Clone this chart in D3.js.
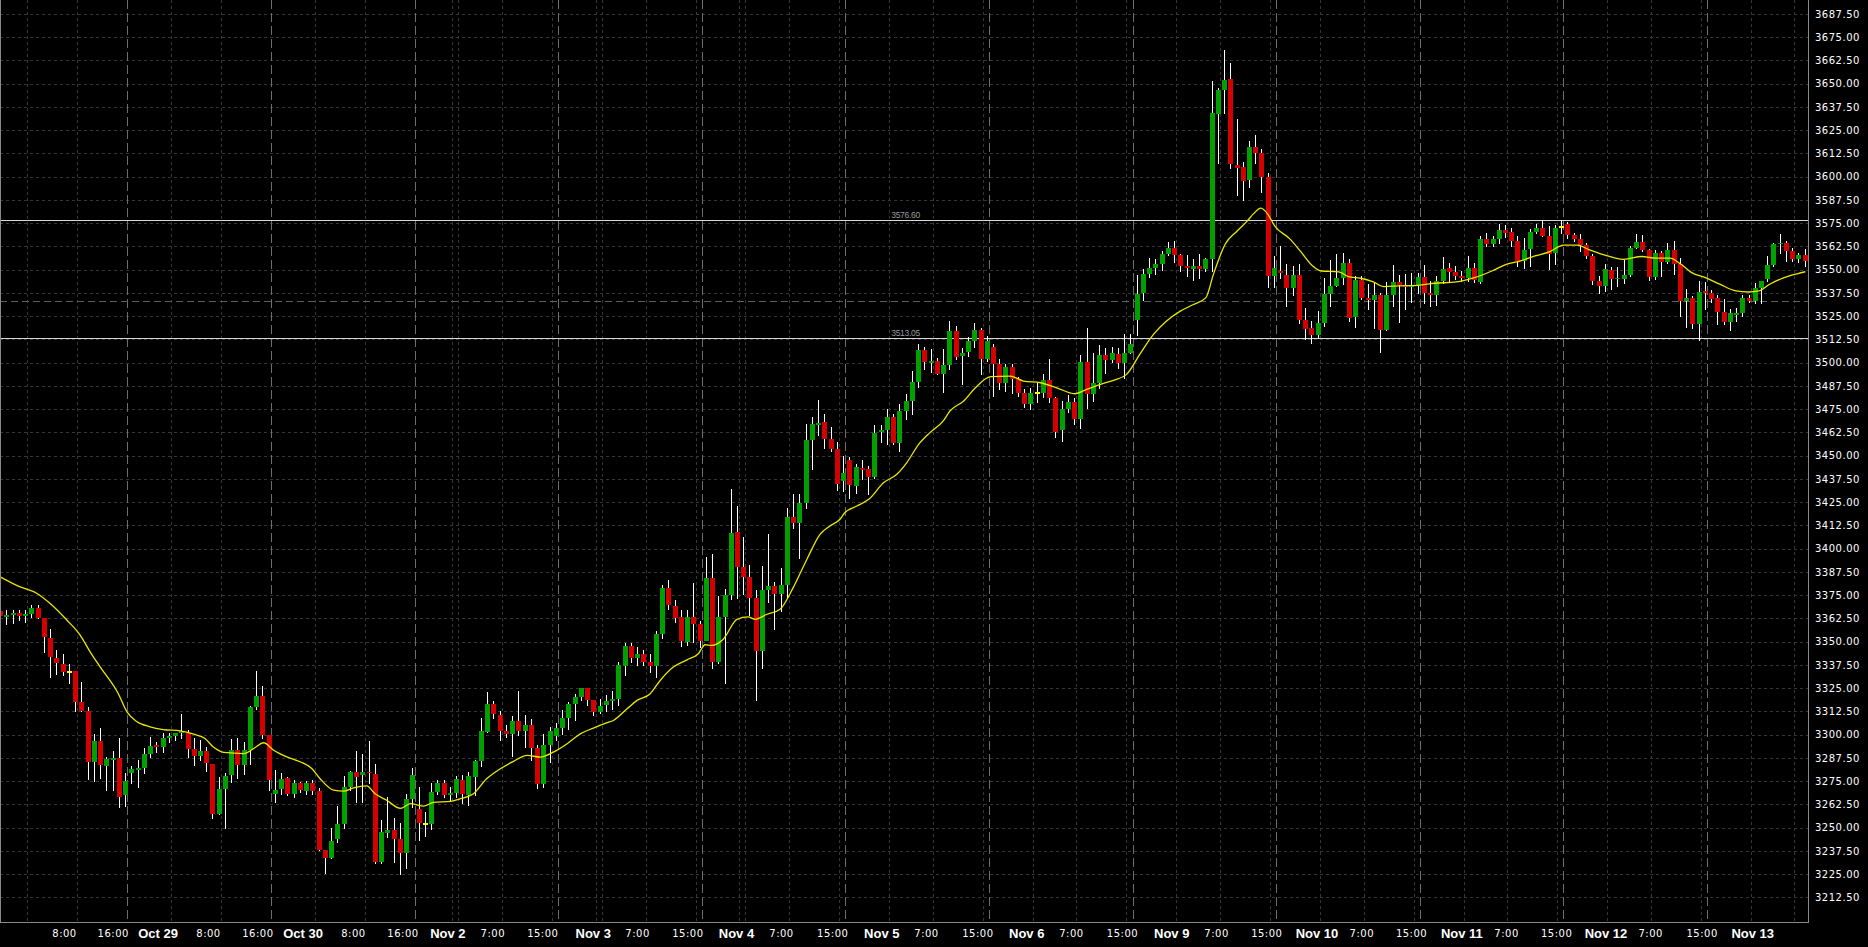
<!DOCTYPE html>
<html><head><meta charset="utf-8">
<script src="https://cdn.jsdelivr.net/npm/d3@7"></script>
<style>
html,body{margin:0;padding:0;background:#000;overflow:hidden}
svg{display:block}
</style></head><body>
<svg id="chart" width="1868" height="947"></svg>
<script>
// ---------- DATA (hourly candles, index 0..289) ----------
const opens = [3366.5,3363.3,3364.2,3365.5,3364.0,3364.7,3368.3,3362.8,3352.2,3341.4,3338.2,3333.6,3334.1,3317.3,3312.6,3285.4,3296.3,3283.2,3286.6,3287.3,
3267.4,3279.4,3280.9,3282.0,3289.8,3294.3,3293.4,3298.3,3299.5,3300.6,3301.1,3292.2,3288.6,3291.1,3284.1,3257.2,3270.6,3278.2,3291.6,3283.6,
3291.6,3314.7,3320.7,3299.7,3268.1,3270.5,3276.4,3268.3,3273.7,3269.8,3273.7,3269.6,3237.9,3233.7,3243.6,3251.8,3271.7,3279.8,3278.0,3279.8,
3278.7,3231.6,3247.2,3248.6,3243.8,3236.4,3265.3,3259.9,3252.0,3252.0,3269.0,3273.7,3267.5,3268.6,3275.4,3267.5,3277.2,3285.6,3301.3,3316.2,
3310.8,3301.9,3300.1,3307.1,3301.9,3304.9,3292.7,3273.2,3294.2,3299.0,3303.7,3308.9,3316.4,3320.0,3324.8,3318.4,3312.1,3315.7,3318.0,3319.4,
3336.8,3347.4,3341.1,3343.6,3339.0,3336.8,3353.9,3378.9,3368.9,3363.0,3349.7,3363.0,3359.4,3350.5,3384.0,3339.0,3363.3,3375.1,3409.0,3390.2,
3384.8,3373.3,3345.0,3377.6,3379.8,3375.8,3380.5,3417.1,3414.0,3424.6,3458.4,3466.5,3468.1,3459.2,3453.6,3436.4,3447.7,3433.9,3443.4,3443.0,
3438.7,3462.9,3464.0,3470.8,3456.7,3474.0,3479.4,3489.8,3506.8,3500.0,3500.9,3493.8,3498.9,3517.0,3503.8,3505.7,3511.7,3517.6,3502.2,3508.4,
3499.1,3489.2,3497.6,3491.4,3483.8,3477.6,3483.5,3483.8,3490.5,3480.8,3463.6,3475.1,3478.8,3469.9,3500.3,3482.9,3488.9,3504.1,3501.4,3504.5,
3500.0,3505.3,3523.0,3537.5,3547.5,3551.0,3553.3,3558.5,3561.4,3557.8,3552.0,3550.5,3552.0,3550.5,3555.5,3633.7,3646.6,3652.5,3606.2,3605.1,
3598.2,3615.9,3613.0,3600.0,3546.6,3549.2,3547.2,3540.4,3547.2,3522.9,3518.6,3514.9,3521.5,3537.1,3541.2,3545.7,3553.4,3524.6,3544.5,3534.8,
3533.7,3536.4,3517.5,3536.4,3543.4,3541.6,3540.5,3541.0,3546.1,3537.3,3536.2,3543.9,3551.0,3548.8,3546.6,3545.7,3551.1,3543.4,3566.7,3564.0,
3566.4,3571.1,3570.3,3565.5,3554.5,3561.0,3570.3,3572.5,3568.2,3558.9,3573.2,3574.7,3568.6,3566.4,3563.2,3557.4,3543.9,3541.2,3549.9,3544.8,
3544.8,3547.2,3561.9,3564.9,3560.6,3546.1,3558.9,3554.4,3560.6,3553.3,3533.2,3534.8,3520.9,3538.4,3537.3,3534.8,3527.2,3522.0,3525.8,3526.9,
3534.8,3533.2,3540.2,3544.8,3552.4,3563.9,3564.6,3560.1,3555.6,3557.8];
const highs = [3367.2,3367.2,3366.9,3366.9,3366.9,3369.9,3369.9,3362.8,3357.0,3345.7,3343.6,3338.2,3334.1,3328.2,3314.9,3300.2,3303.3,3288.0,3291.3,3298.1,
3279.1,3283.0,3286.2,3292.9,3298.8,3296.1,3300.6,3300.6,3301.0,3311.0,3302.4,3297.9,3297.0,3293.4,3284.1,3277.3,3279.1,3297.5,3297.9,3296.1,
3315.5,3334.1,3326.0,3299.7,3281.2,3279.1,3277.0,3275.5,3274.6,3275.0,3275.5,3271.4,3237.9,3249.9,3261.5,3277.6,3280.3,3291.1,3289.5,3296.5,
3284.4,3254.0,3266.5,3254.9,3252.7,3268.3,3282.3,3271.9,3258.5,3274.1,3275.5,3275.8,3271.8,3277.5,3278.0,3279.7,3286.1,3308.7,3322.7,3318.0,
3312.6,3305.3,3309.8,3323.2,3310.3,3308.2,3294.2,3300.1,3304.0,3306.2,3313.0,3317.6,3321.6,3325.2,3325.2,3318.7,3319.3,3321.1,3323.7,3339.0,
3349.4,3349.0,3347.0,3345.3,3343.1,3355.5,3380.7,3382.9,3372.6,3366.8,3367.1,3381.4,3361.0,3395.4,3396.9,3374.7,3378.5,3431.9,3423.0,3406.3,
3391.3,3377.6,3390.7,3408.1,3382.3,3389.5,3421.7,3429.6,3429.2,3466.9,3470.8,3479.8,3472.2,3465.4,3457.6,3449.8,3449.5,3445.4,3447.5,3444.5,
3466.5,3466.3,3474.9,3472.2,3478.0,3483.4,3495.5,3509.9,3508.6,3507.2,3502.7,3507.5,3522.4,3519.7,3508.1,3513.8,3521.2,3518.8,3514.3,3509.8,
3501.8,3499.4,3499.1,3492.3,3485.6,3486.2,3489.2,3493.7,3501.8,3481.5,3479.4,3482.6,3481.1,3504.1,3518.8,3505.0,3509.3,3508.0,3508.4,3508.0,
3515.6,3515.2,3547.0,3550.5,3556.5,3556.0,3560.0,3564.8,3565.4,3558.2,3557.9,3555.5,3558.2,3556.4,3651.4,3647.8,3667.9,3661.1,3631.3,3608.0,
3619.1,3622.7,3615.0,3602.0,3557.4,3562.8,3552.9,3552.0,3552.9,3529.2,3522.4,3527.8,3545.7,3555.2,3558.3,3559.2,3555.6,3546.6,3546.6,3542.1,
3543.4,3537.6,3543.4,3552.6,3547.2,3547.5,3548.4,3548.4,3552.4,3543.9,3546.6,3556.9,3553.8,3552.0,3549.3,3557.4,3553.8,3568.2,3569.9,3568.2,
3574.4,3573.9,3572.3,3568.2,3567.3,3571.7,3574.4,3576.6,3573.6,3574.0,3576.6,3575.4,3570.0,3569.1,3564.6,3558.3,3546.6,3552.9,3551.7,3551.7,
3555.2,3562.8,3569.1,3568.5,3561.0,3560.6,3560.1,3564.6,3565.5,3556.5,3539.4,3535.9,3543.9,3543.4,3539.1,3536.2,3534.1,3528.7,3529.6,3536.2,
3536.2,3543.0,3543.9,3557.4,3564.6,3569.1,3565.5,3561.9,3559.2,3561.0];
const lows = [3363.0,3359.7,3360.1,3361.5,3360.6,3363.0,3362.8,3344.5,3330.7,3332.8,3332.0,3327.8,3312.8,3312.8,3276.2,3275.1,3276.9,3270.1,3270.1,3260.8,
3261.5,3274.1,3271.9,3279.1,3288.0,3290.7,3290.7,3296.1,3297.0,3297.9,3288.0,3283.6,3286.2,3280.5,3255.2,3257.2,3249.9,3274.6,3276.4,3278.7,
3284.4,3314.0,3297.9,3270.1,3263.7,3268.3,3267.5,3266.2,3269.2,3268.3,3268.3,3237.9,3225.7,3233.4,3242.2,3249.5,3270.1,3263.8,3263.8,3273.7,
3231.0,3231.0,3245.0,3231.6,3225.0,3228.5,3261.2,3243.2,3245.7,3249.0,3268.3,3266.5,3264.6,3266.4,3263.2,3261.9,3267.3,3282.9,3301.3,3309.0,
3296.9,3298.7,3288.6,3299.6,3293.3,3286.1,3271.4,3271.8,3285.0,3296.9,3300.5,3303.1,3308.0,3318.4,3316.0,3310.3,3311.7,3312.6,3313.9,3315.7,
3331.8,3339.0,3337.2,3337.2,3333.6,3330.9,3352.1,3367.3,3360.5,3347.6,3348.3,3349.7,3347.0,3356.0,3335.8,3338.7,3328.0,3372.8,3373.3,3375.5,
3364.4,3318.5,3335.7,3371.5,3356.7,3366.5,3373.7,3411.0,3395.2,3422.1,3443.0,3461.1,3454.3,3452.5,3431.4,3431.0,3427.4,3430.1,3437.3,3429.2,
3438.2,3457.6,3456.1,3456.1,3452.5,3469.6,3472.2,3486.9,3496.4,3495.2,3493.8,3484.4,3496.4,3501.8,3488.7,3503.6,3508.4,3494.1,3500.9,3482.1,
3485.6,3484.7,3483.8,3482.1,3476.1,3475.1,3479.0,3481.5,3479.0,3460.0,3457.9,3473.6,3467.2,3465.0,3475.4,3479.4,3486.5,3494.6,3500.3,3497.3,
3491.9,3505.0,3515.0,3533.5,3546.0,3547.5,3550.0,3557.8,3554.3,3549.3,3546.6,3544.6,3545.7,3549.3,3549.3,3607.5,3634.4,3604.8,3590.1,3587.4,
3594.6,3607.5,3592.0,3540.9,3540.9,3545.7,3530.5,3536.4,3521.5,3512.5,3510.7,3513.4,3519.7,3530.5,3541.2,3542.1,3522.4,3519.1,3534.0,3528.7,
3518.8,3505.9,3517.5,3530.5,3522.0,3528.7,3532.8,3537.6,3532.3,3530.5,3530.8,3543.0,3543.9,3544.8,3543.9,3543.9,3543.4,3543.0,3562.8,3562.8,
3564.2,3567.8,3562.8,3552.0,3551.1,3552.0,3569.6,3568.2,3550.6,3552.9,3570.0,3567.3,3565.5,3560.1,3556.5,3542.1,3537.6,3538.5,3539.8,3541.2,
3542.7,3546.6,3561.9,3560.1,3544.5,3544.8,3546.6,3553.8,3547.5,3525.1,3519.2,3518.8,3512.1,3528.7,3532.6,3520.6,3520.6,3517.5,3522.4,3525.1,
3532.6,3532.3,3531.9,3543.9,3552.0,3559.2,3554.7,3554.7,3554.2,3552.0];
const closes = [3363.7,3364.2,3365.5,3364.0,3364.9,3368.3,3362.8,3352.5,3341.8,3338.6,3333.7,3333.6,3317.6,3312.8,3285.4,3296.3,3283.7,3286.8,3287.3,3266.5,
3275.0,3281.6,3282.0,3289.8,3294.1,3293.4,3298.1,3299.3,3300.6,3301.7,3292.2,3288.6,3291.1,3284.6,3257.2,3270.6,3277.8,3291.6,3283.6,3291.6,
3314.9,3320.7,3299.7,3275.5,3270.1,3276.0,3268.3,3273.7,3270.1,3273.7,3269.8,3238.2,3233.7,3242.7,3251.8,3271.7,3279.8,3277.3,3279.8,3279.1,
3231.6,3247.5,3248.6,3243.8,3236.1,3265.3,3278.0,3252.4,3252.0,3269.0,3273.7,3267.4,3268.6,3275.9,3267.8,3277.5,3285.6,3301.7,3316.2,3311.2,
3301.9,3300.1,3307.1,3301.9,3304.9,3292.7,3273.2,3294.2,3301.7,3303.5,3308.9,3316.4,3320.0,3324.8,3318.4,3312.1,3315.5,3318.0,3319.4,3337.2,
3347.4,3341.1,3343.6,3339.0,3336.8,3353.9,3378.8,3369.8,3362.6,3350.1,3363.0,3359.4,3350.1,3384.0,3339.0,3363.0,3375.1,3408.6,3390.2,3384.8,
3373.7,3345.0,3377.6,3379.8,3375.8,3380.5,3417.1,3414.0,3424.6,3458.4,3466.9,3467.6,3459.2,3453.6,3435.0,3440.7,3434.4,3443.9,3442.3,3438.7,
3462.2,3464.0,3470.8,3456.7,3474.0,3479.4,3489.8,3506.8,3500.6,3500.9,3493.8,3498.9,3517.0,3503.2,3505.2,3511.7,3517.6,3502.2,3511.7,3499.4,
3489.2,3497.6,3491.4,3483.8,3477.9,3483.8,3483.5,3490.5,3481.2,3462.9,3475.1,3478.8,3469.9,3500.3,3482.9,3488.9,3504.1,3501.4,3505.0,3500.0,
3505.3,3510.0,3537.0,3547.5,3551.0,3553.3,3558.5,3561.4,3557.8,3552.0,3550.8,3552.2,3550.5,3555.5,3634.2,3646.6,3651.9,3606.8,3604.8,3597.6,
3615.9,3612.9,3600.0,3546.6,3551.1,3548.1,3540.4,3547.2,3522.9,3518.3,3514.9,3521.5,3537.1,3541.2,3545.7,3553.4,3524.2,3544.5,3534.9,3533.7,
3536.4,3517.5,3536.4,3543.4,3541.6,3540.5,3541.0,3546.1,3537.6,3536.2,3543.9,3550.6,3548.8,3546.6,3545.7,3551.1,3544.5,3566.7,3564.0,3566.4,
3571.4,3569.9,3565.5,3554.5,3560.6,3570.3,3572.5,3568.2,3558.3,3572.3,3573.2,3568.6,3566.4,3563.2,3557.4,3543.9,3541.2,3550.2,3544.8,3545.7,
3547.4,3561.5,3564.9,3560.6,3546.1,3558.9,3554.4,3560.6,3553.3,3533.2,3534.8,3520.9,3538.0,3537.3,3534.4,3527.2,3521.8,3526.9,3526.9,3534.8,
3533.2,3540.2,3543.9,3552.4,3564.0,3564.6,3560.1,3555.6,3557.8,3554.7];

// moving average: candle index -> value
const maIndex = [0,2.9,5.9,8.0,10.7,12.8,14.4,16.0,18.9,20.3,21.9,24.0,26.1,28.8,31.0,32.8,34.1,35.8,39.0,40.6,42.2,43.8,45.9,48.0,49.9,51.2,53.4,55.0,56.6,58.7,60.0,61.9,64.1,65.7,67.8,69.4,72.1,73.7,75.8,77.9,80.1,82.2,84.4,86.5,88.6,90.8,92.9,95.0,97.2,98.2,100.4,102.0,104.1,105.7,107.8,110.0,111.8,112.9,114.0,115.8,118.0,119.8,120.9,122.8,124.9,127.0,129.2,131.3,132.9,134.5,135.3,137.2,139.1,141.5,143.6,145.2,147.1,148.9,151.1,152.1,154.3,156.1,158.6,161.8,163.9,166.6,169.2,172.1,174.0,176.2,178.3,180.4,182.6,184.7,186.8,189.0,191.1,193.1,194.3,196.2,198.1,199.7,200.7,201.9,203.0,204.1,206.5,208.2,210.2,211.6,214.4,215.9,217.9,219.9,221.6,224.1,227.0,229.8,233.2,236.1,238.9,241.2,243.5,245.8,248.1,250.4,252.6,254.3,256.6,260.0,262.9,265.2,267.4,269.2,270.9,273.1,275.4,278.0,280.0,281.7,283.4,285.7,287.9,289.1];
const maValues = [3384.8,3379.8,3375.9,3370.5,3361.5,3353.5,3344.5,3336.4,3322.1,3312.2,3306.9,3304.2,3302.7,3302.0,3300.2,3297.9,3293.4,3290.4,3289.8,3292.5,3295.6,3291.6,3288.0,3285.4,3281.8,3276.4,3270.1,3269.6,3271.4,3272.4,3268.3,3264.7,3260.3,3262.9,3261.5,3263.5,3264.1,3265.5,3268.2,3276.2,3281.6,3285.6,3288.8,3287.9,3290.6,3295.1,3300.4,3303.5,3306.4,3307.6,3313.9,3318.4,3322.0,3329.1,3336.3,3340.2,3343.5,3348.3,3348.0,3351.3,3362.0,3363.3,3362.0,3364.7,3367.4,3379.0,3394.3,3407.7,3412.2,3415.8,3419.4,3422.9,3426.5,3435.5,3440.0,3446.3,3456.1,3462.4,3469.0,3474.0,3479.4,3486.2,3492.5,3492.8,3490.1,3489.2,3486.5,3483.3,3485.6,3488.3,3490.5,3493.7,3505.0,3515.2,3522.4,3527.7,3531.3,3535.0,3547.5,3563.8,3570.8,3576.1,3580.0,3583.1,3579.9,3573.6,3566.7,3560.1,3552.0,3549.3,3548.8,3546.3,3545.4,3543.4,3540.9,3541.3,3541.6,3542.7,3543.4,3545.7,3549.3,3552.9,3554.7,3557.4,3559.6,3563.2,3563.2,3561.0,3558.3,3555.6,3557.1,3556.2,3556.2,3552.9,3548.4,3545.7,3542.2,3538.6,3538.0,3538.6,3542.2,3545.7,3547.9,3548.9];

// axes / annotations
const yTickValues = d3.range(3212.5, 3687.51, 12.5);
const timeLabels = ["8:00","16:00","Oct 29","8:00","16:00","Oct 30","8:00","16:00","Nov 2","7:00","15:00","Nov 3","7:00","15:00","Nov 4","7:00","15:00","Nov 5","7:00","15:00","Nov 6","7:00","15:00","Nov 9","7:00","15:00","Nov 10","7:00","15:00","Nov 11","7:00","15:00","Nov 12","7:00","15:00","Nov 13"];
const timeLabelIndex = [10.22,18.02,25.21,33.28,41.19,48.43,56.49,64.43,71.62,78.81,86.82,94.89,102.0,110.06,117.84,125.05,133.26,141.11,148.27,156.5,164.32,171.49,179.66,187.54,194.72,202.77,210.81,217.99,225.95,234.01,241.17,249.18,257.09,264.26,272.49,280.6];
const sessionStarts = [20,43,66,89,112,135,158,181,204,227,250,273];
const gridHours = [4,12,27,35,50,58,72,73,80,88,95,96,103,111,118,119,126,134,142,149,157,165,172,180,188,195,203,211,218,226,234,241,249,257,264,272,280,287];
const levelLines = [3576.60, 3513.05];
const levelLabels = ["3576.60", "3513.05"];
const levelLabelIndex = 142.7;
const priceLine = 3533.0;

// ---------- DRAW ----------
const W = 1868, H = 947;
const plotRight = 1808.5, plotBottom = 922.5;
const svg = d3.select("#chart");
const x = d3.scaleLinear().domain([0, 289]).range([0.2, 0.2 + 289 * 6.244]);
const y = d3.scaleLinear().domain([3212.5, 3687.5]).range([897.3, 14]);
const sep = 0.36; // separator offset inside the hour slot

svg.append("rect").attr("width", W).attr("height", H).attr("fill", "#000");

const grid = svg.append("g").attr("shape-rendering", "crispEdges");
grid.selectAll("line.h").data(yTickValues).join("line")
  .attr("x1", 0).attr("x2", plotRight)
  .attr("y1", d => Math.round(y(d)) + 0.5).attr("y2", d => Math.round(y(d)) + 0.5)
  .attr("stroke", "#363636").attr("stroke-dasharray", "3,3");
grid.selectAll("line.v").data(gridHours).join("line")
  .attr("x1", d => Math.round(x(d + sep)) + 0.5).attr("x2", d => Math.round(x(d + sep)) + 0.5)
  .attr("y1", 0).attr("y2", plotBottom)
  .attr("stroke", "#363636").attr("stroke-dasharray", "3,3");
grid.selectAll("line.s").data(sessionStarts).join("line")
  .attr("x1", d => Math.round(x(d + sep)) + 0.5).attr("x2", d => Math.round(x(d + sep)) + 0.5)
  .attr("y1", 0).attr("y2", plotBottom)
  .attr("stroke", "#6e6e6e").attr("stroke-dasharray", "9,4");
grid.append("line")
  .attr("x1", 0).attr("x2", plotRight)
  .attr("y1", Math.round(y(priceLine)) + 0.5).attr("y2", Math.round(y(priceLine)) + 0.5)
  .attr("stroke", "#5e5e5e").attr("stroke-dasharray", "7,4");

const lv = svg.append("g");
lv.selectAll("line").data(levelLines).join("line")
  .attr("shape-rendering", "crispEdges")
  .attr("x1", 0).attr("x2", plotRight)
  .attr("y1", d => Math.round(y(d)) + 0.5).attr("y2", d => Math.round(y(d)) + 0.5)
  .attr("stroke", "#d8d8d8");
lv.selectAll("text").data(levelLines).join("text")
  .attr("x", x(levelLabelIndex)).attr("y", d => Math.round(y(d)) - 2)
  .attr("fill", "#9a9a9a").attr("font-family", "Liberation Sans, Arial, sans-serif")
  .attr("font-size", "8.5px").attr("letter-spacing", "-0.3px")
  .text((d, i) => levelLabels[i]);

// candles
const idx = d3.range(opens.length);
const cg = svg.append("g").attr("shape-rendering", "crispEdges");
cg.selectAll("line.w").data(idx).join("line")
  .attr("x1", i => Math.round(x(i)) + 0.5).attr("x2", i => Math.round(x(i)) + 0.5)
  .attr("y1", i => Math.round(y(highs[i]))).attr("y2", i => Math.round(y(lows[i])) + 1)
  .attr("stroke", "#ffffff");
cg.selectAll("rect.b").data(idx).join("rect")
  .attr("x", i => Math.round(x(i)) - 2)
  .attr("width", 5)
  .attr("y", i => {
    if (opens[i] === closes[i]) return Math.round(y(opens[i])) - 1;
    return Math.round(y(Math.max(opens[i], closes[i])));
  })
  .attr("height", i => {
    if (opens[i] === closes[i]) return 2;
    return Math.max(1, Math.round(y(Math.min(opens[i], closes[i]))) - Math.round(y(Math.max(opens[i], closes[i]))));
  })
  .attr("fill", i => opens[i] === closes[i] ? "#ffff00" : (closes[i] > opens[i] ? "#00a000" : "#d40000"));

// moving average
const maPts = maIndex.map((d, i) => [d, maValues[i]]).slice(0, Math.min(maIndex.length, maValues.length));
svg.append("path").datum(maPts)
  .attr("fill", "none").attr("stroke", "#e8e800").attr("stroke-width", 1.3)
  .attr("d", d3.line().x(d => x(d[0])).y(d => y(d[1])).curve(d3.curveMonotoneX));

// frame
const fr = svg.append("g").attr("shape-rendering", "crispEdges").attr("stroke", "#8a8a8a");
fr.append("line").attr("x1", plotRight).attr("x2", plotRight).attr("y1", 0).attr("y2", plotBottom);
fr.append("line").attr("x1", 0).attr("x2", plotRight).attr("y1", plotBottom).attr("y2", plotBottom);
fr.append("line").attr("x1", 0.5).attr("x2", 0.5).attr("y1", 0).attr("y2", plotBottom);

// right price axis
const ya = svg.append("g").attr("transform", `translate(${plotRight},0)`)
  .call(d3.axisRight(y).tickValues(yTickValues).tickSize(0).tickPadding(6.5).tickFormat(d3.format(".2f")));
ya.select(".domain").remove();
ya.selectAll("text").attr("fill", "#ffffff").attr("font-family", "DejaVu Sans, sans-serif")
  .attr("font-size", "10px").attr("letter-spacing", "0.5px");

// bottom time axis
const xa = svg.append("g").attr("transform", `translate(0,${plotBottom})`)
  .call(d3.axisBottom(x).tickValues(timeLabelIndex).tickSize(0).tickPadding(7).tickFormat((d, i) => timeLabels[i]));
xa.select(".domain").remove();
xa.selectAll("text").attr("fill", "#ffffff")
  .each(function(d, i) {
    const isDate = /^[A-Z]/.test(timeLabels[i]);
    d3.select(this)
      .attr("font-family", isDate ? "Liberation Sans, Arial, sans-serif" : "DejaVu Sans, sans-serif")
      .attr("font-weight", isDate ? "bold" : "normal")
      .attr("font-size", isDate ? "13px" : "10px")
      .attr("letter-spacing", isDate ? "0px" : "0.5px")
      .attr("dy", isDate ? "0.68em" : "0.78em");
  });
</script>
</body></html>
